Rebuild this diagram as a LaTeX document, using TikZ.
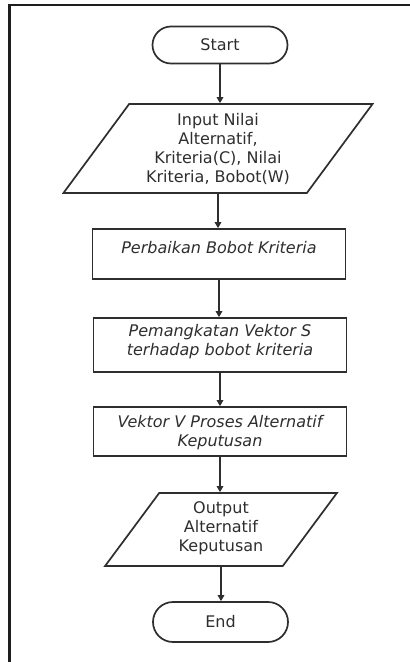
\documentclass[tikz,border=0pt]{standalone}
\usepackage{fontspec}
\setmainfont{DejaVu Sans}
\usetikzlibrary{shapes.geometric,shapes.misc,arrows.meta}
\definecolor{ink}{HTML}{2E2E2E}
\definecolor{framec}{HTML}{1E1E1E}
\newcommand\liftbox[2]{\raisebox{#1}[\height][\depth]{\begin{tabular}{@{}c@{}}#2\end{tabular}}}
\tikzset{
  base/.style={draw=ink, line width=1.7pt, text=ink, inner sep=0pt,
    font=\fontsize{16}{19}\selectfont},
  term/.style={base, rounded rectangle, minimum width=135pt},
  io/.style={base, trapezium, trapezium stretches=true},
  procbox/.style={base, rectangle, minimum width=253pt, font=\fontsize{16}{19}\selectfont\itshape},
  flow/.style={draw=ink, line width=1.7pt, -{Triangle[length=6pt,width=6.5pt]}}
}
\begin{document}
\begin{tikzpicture}[x=1pt,y=-1pt]
\useasboundingbox (0,0) rectangle (410,662);
\fill[white] (0,0) rectangle (410,662);
\draw[framec, line width=2.2pt] (9.5,662) -- (9.5,5) -- (410,5);

\node[term, minimum height=37pt] (start) at (220,45) {Start};
\node[io, trapezium left angle=55, trapezium right angle=125,
      minimum width=310pt, minimum height=89pt] (input) at (218,148.5)
  {\liftbox{-2pt}{Input Nilai\\ Alternatif,\\ Kriteria(C), Nilai\\ Kriteria, Bobot(W)}};
\node[procbox, minimum height=50pt] (p1) at (219,254)
  {\liftbox{4pt}{Perbaikan Bobot Kriteria}};
\node[procbox, minimum height=54pt] (p2) at (220,345)
  {\liftbox{3pt}{Pemangkatan Vektor S\\ terhadap bobot kriteria}};
\node[procbox, minimum height=49pt] (p3) at (220,431.5)
  {\liftbox{-2pt}{Vektor V Proses Alternatif\\ Keputusan}};
\node[io, trapezium left angle=57, trapezium right angle=123,
      minimum width=232pt, minimum height=73pt] (output) at (221,529.5)
  {\liftbox{1pt}{Output\\ Alternatif\\ Keputusan}};
\node[term, minimum height=40pt] (end) at (220.5,622) {End};

\draw[flow] (start.south) -- (start.south |- input.north);
\draw[flow] (input.south) -- (input.south |- p1.north);
\draw[flow] (p1.south) -- (p1.south |- p2.north);
\draw[flow] (p2.south) -- (p2.south |- p3.north);
\draw[flow] (p3.south) -- (p3.south |- output.north);
\draw[flow] (output.south) -- (output.south |- end.north);
\end{tikzpicture}
\end{document}
